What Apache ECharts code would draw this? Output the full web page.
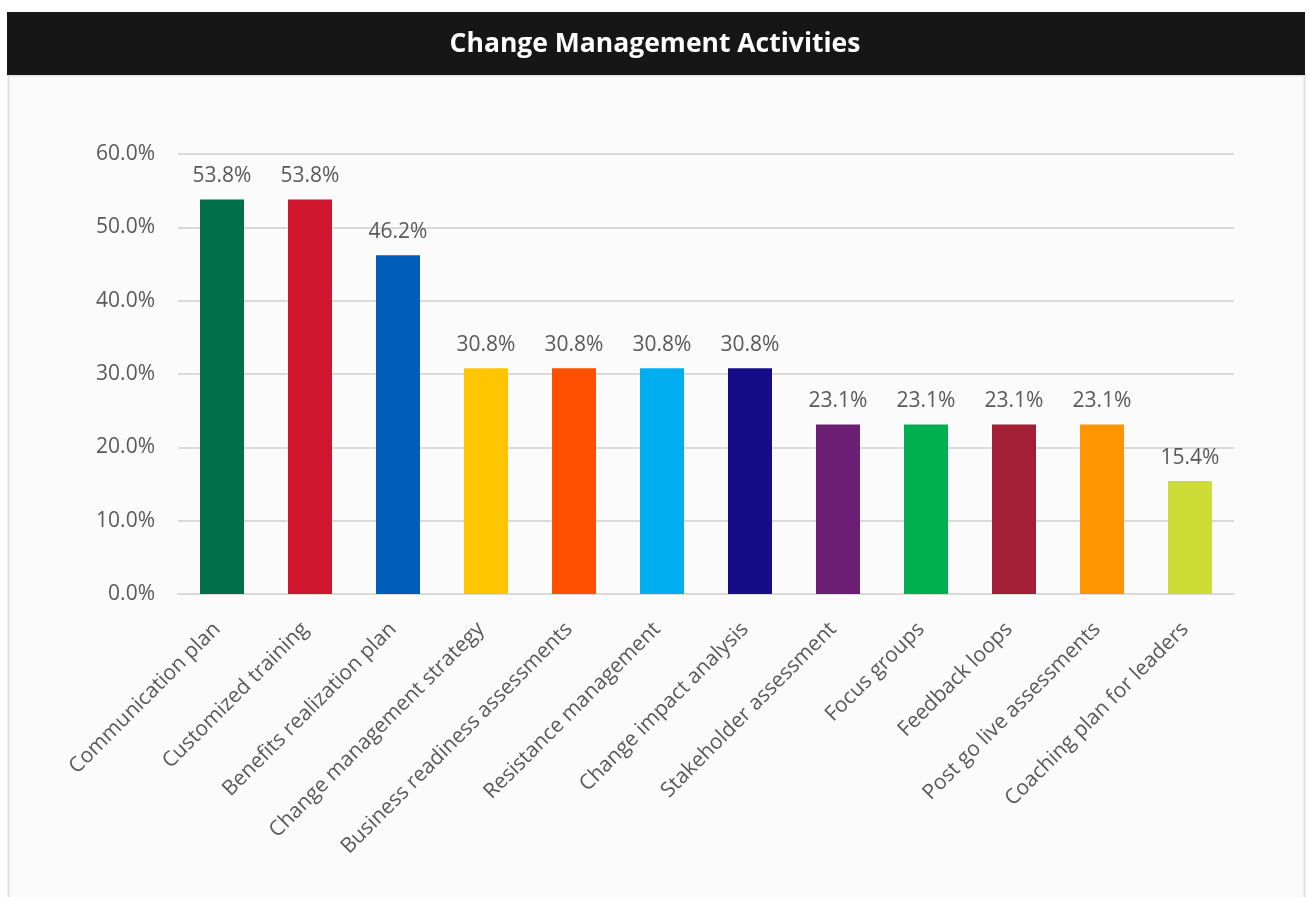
<!DOCTYPE html>
<html>
<head>
<meta charset="utf-8">
<script src="https://cdn.jsdelivr.net/npm/echarts@6/dist/echarts.min.js"></script>
<style>
html,body{margin:0;padding:0;background:#ffffff;}
#chart{width:1309px;height:897px;}
</style>
</head>
<body>
<div id="chart"></div>
<script>
const titleText = 'Change Management Activities';
const categories = ['Communication plan','Customized training','Benefits realization plan','Change management strategy','Business readiness assessments','Resistance management','Change impact analysis','Stakeholder assessment','Focus groups','Feedback loops','Post go live assessments','Coaching plan for leaders'];
const values = [53.8,53.8,46.2,30.8,30.8,30.8,30.8,23.1,23.1,23.1,23.1,15.4];
const barColors = ['#00704A','#D0152F','#005EB8','#FFC600','#FE5000','#00AEEF','#170C88','#6C1D74','#00B050','#A21F36','#FF9500','#CDDC37'];
const yTicks = [0,10,20,30,40,50,60];

const chart = echarts.init(document.getElementById('chart'));
const font = '"Open Sans", "Noto Sans", sans-serif';
chart.setOption({
  animation:false,
  textStyle:{fontFamily:font},
  graphic:[
    {type:'rect',z:-10,shape:{x:8.5,y:75.5,width:1296,height:840},style:{fill:'#fbfbfb',stroke:'#e2e2e2',lineWidth:2}},
    {type:'rect',z:-9,shape:{x:7,y:12,width:1298,height:63},style:{fill:'#161616'}},
    {type:'text',z:10,x:655,y:44,style:{text:titleText,fill:'#ffffff',font:'bold 26.5px "Open Sans", sans-serif',align:'center',verticalAlign:'middle'}}
  ],
  grid:{left:178,right:75,top:154,bottom:303,containLabel:false},
  xAxis:{
    type:'category',
    data:categories,
    axisLine:{lineStyle:{color:'#d9d9d9',width:2}},
    axisTick:{show:false},
    axisLabel:{rotate:45,interval:0,margin:27,padding:[0,7,0,0],color:'#595959',fontSize:21,fontFamily:font}
  },
  yAxis:{
    type:'value',
    min:yTicks[0],max:yTicks[yTicks.length-1],interval:10,
    axisLine:{show:false},axisTick:{show:false},
    splitLine:{lineStyle:{color:'#d9d9d9',width:2}},
    axisLabel:{margin:23,color:'#595959',fontSize:21,fontFamily:font,formatter:v=>v.toFixed(1)+'%'}
  },
  series:[{
    type:'bar',
    barWidth:'50%',
    data:values.map((v,i)=>({value:v,itemStyle:{color:barColors[i]}})),
    label:{show:true,position:'top',distance:13,color:'#595959',fontSize:21,fontFamily:font,formatter:p=>p.value.toFixed(1)+'%'}
  }]
});
</script>
</body>
</html>
